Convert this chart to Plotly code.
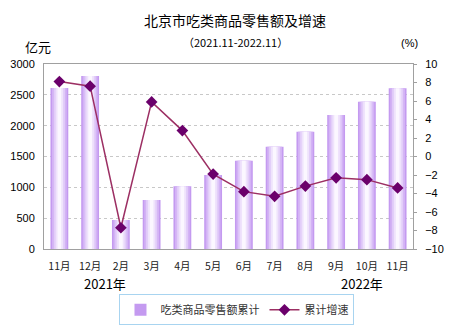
import plotly.graph_objects as go

# Monthly labels (Nov 2021 - Nov 2022)
months = ["11月", "12月", "2月", "3月", "4月", "5月", "6月", "7月", "8月", "9月", "10月", "11月"]
# Cumulative food retail sales (100 million yuan)
sales = [2610, 2805, 470, 795, 1017, 1200, 1432, 1659, 1903, 2173, 2389, 2606]
# Cumulative growth rate (%)
growth = [8.1, 7.6, -7.7, 5.9, 2.8, -1.9, -3.8, -4.3, -3.2, -2.3, -2.5, -3.4]

x = list(range(len(months)))

fig = go.Figure()

# Layered bars of decreasing width give a cylinder-like shading
shades = [
    (0.58, "#c49af0"),
    (0.48, "#d3b3f5"),
    (0.36, "#e2cdf9"),
    (0.24, "#efe3fc"),
    (0.12, "#fbf7ff"),
]
for i, (w, c) in enumerate(shades):
    fig.add_trace(go.Bar(
        x=x, y=sales, width=w, marker=dict(color=c, line=dict(width=0)),
        name="吃类商品零售额累计", showlegend=(i == 0), yaxis="y",
        hoverinfo="skip" if i else None,
    ))

fig.add_trace(go.Scatter(
    x=x, y=growth, name="累计增速", yaxis="y2", mode="lines+markers",
    line=dict(color="#9c2f63", width=1.5),
    marker=dict(symbol="diamond", size=9, color="#6b006b"),
))

axis_font = dict(family="Liberation Sans, Arial, sans-serif", size=11, color="#000")

fig.update_layout(
    width=470, height=326,
    margin=dict(l=44, r=57, t=64, b=77, autoexpand=False),
    paper_bgcolor="white", plot_bgcolor="white",
    barmode="overlay",
    showlegend=True,
    font=dict(family="Noto Sans CJK SC", size=12, color="#000"),
    xaxis=dict(
        range=[-0.5, 11.5], tickmode="array", tickvals=x, ticktext=months,
        showline=True, linecolor="#a0a0a0", linewidth=1, mirror=True,
        ticks="", showgrid=False, zeroline=False, ticklabelstandoff=7,
        tickfont=dict(family="Noto Sans CJK SC", size=10.5, color="#222"),
    ),
    yaxis=dict(
        range=[0, 3000], dtick=500, tickfont=axis_font,
        showline=True, linecolor="#a0a0a0", linewidth=1,
        showgrid=True, gridcolor="#c8c8c8", griddash="dot", gridwidth=1,
        zeroline=False, ticks="", ticklabelstandoff=6,
    ),
    yaxis2=dict(
        range=[-10, 10], dtick=2, overlaying="y", side="right",
        tickfont=axis_font, showline=True, linecolor="#a0a0a0", linewidth=1,
        showgrid=False, zeroline=False, ticks="outside", ticklen=3,
        tickcolor="#a0a0a0", ticklabelstandoff=6,
    ),
    legend=dict(
        orientation="h", x=0.523, xanchor="center", y=-0.245, yanchor="top",
        bordercolor="#a8d4f0", borderwidth=1, bgcolor="white",
        font=dict(family="Noto Sans CJK SC", size=11, color="#333"),
        itemwidth=30, tracegroupgap=0,
    ),
)

annotations = [
    dict(text="北京市吃类商品零售额及增速", x=235, y=20, size=14, family="Noto Sans CJK SC"),
    dict(text="（2021.11-2022.11）", x=235, y=42, size=11, family="Noto Sans CJK SC"),
    dict(text="亿元", x=38, y=46, size=13, family="Noto Sans CJK SC"),
    dict(text="(%)", x=409, y=43, size=11, family="Liberation Sans"),
    dict(text="2021年", x=105, y=283, size=13, family="Noto Sans CJK SC"),
    dict(text="2022年", x=362, y=283, size=13, family="Noto Sans CJK SC"),
]
for a in annotations:
    fig.add_annotation(
        text=a["text"], xref="paper", yref="paper",
        x=(a["x"] - 44) / 369, y=(249 - a["y"]) / 185,
        xanchor="center", yanchor="middle", showarrow=False,
        font=dict(family=a["family"], size=a["size"], color="#000"),
    )

fig.write_html("out.html")
